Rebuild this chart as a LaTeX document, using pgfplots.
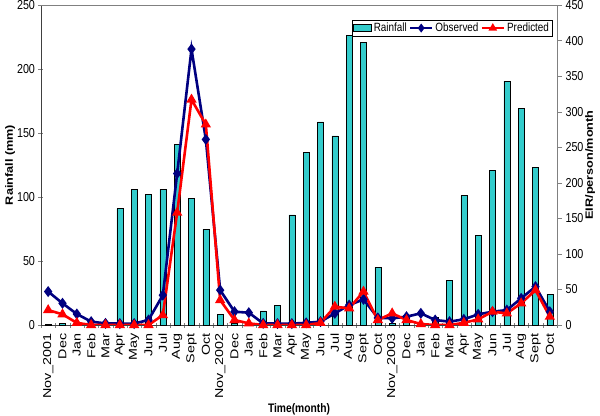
\documentclass[border=0pt]{standalone}
\usepackage{pgfplots}
\pgfplotsset{compat=1.18}
\usepackage{fontspec}
\setmainfont{Liberation Sans}
% the reference is stretched vertically: one family for level text, one for turned text
\newfontfamily\hfont[FakeStretch=0.83]{Liberation Sans}
\newfontfamily\vfont[FakeStretch=1.2]{Liberation Sans}
\newfontfamily\vvfont[FakeStretch=1.25]{Liberation Sans}
\definecolor{rainc}{RGB}{51,204,204}
\definecolor{obsc}{RGB}{0,0,128}
\definecolor{predc}{RGB}{255,0,0}

\begin{document}
\begin{tikzpicture}
\pgfplotsset{
  common/.style={
    scale only axis, width=516bp, height=320bp,
    xmin=-0.5, xmax=35.5, ymin=0,
    yticklabel style={font=\hfont\fontsize{13}{14}\selectfont},
    /pgf/number format/assume math mode=true,
    major tick length=5bp,
  },
}
% left axis: rainfall bars
\begin{axis}[common,
  ymax=250, ytick={0,50,...,250}, tick align=center,
  axis y line*=left, axis x line*=bottom,
  axis line style={black!75},
  xtick={0,...,35}, major x tick style={draw=none},
  minor xtick={-0.5,0.5,...,35.5}, minor tick length=5bp,
  xticklabels={Nov\_2001,Dec,Jan,Feb,Mar,Apr,May,Jun,Jul,Aug,Sept,Oct,
    Nov\_2002,Dec,Jan,Feb,Mar,Apr,May,Jun,Jul,Aug,Sept,Oct,
    Nov\_2003,Dec,Jan,Feb,Mar,Apr,May,Jun,Jul,Aug,Sept,Oct},
  xticklabel style={rotate=90, anchor=east, inner sep=1bp,
    font=\vvfont\fontsize{11.5}{12}\selectfont},
  xticklabel shift=5bp,
  xlabel={Time(month)}, ylabel={Rainfall (mm)},
  ylabel style={at={(axis description cs:-0.06,0.5)}, anchor=center,
    font=\vfont\fontsize{10.6}{12}\selectfont\bfseries},
  xlabel style={at={(axis description cs:0.5,-0.262)}, anchor=center,
    font=\hfont\fontsize{12.4}{14}\selectfont\bfseries},
]
\coordinate (o) at (rel axis cs:0,0);
\addplot[ybar, bar width=6bp, fill=rainc, draw=black, line width=0.6bp] coordinates {
  (0,0.5)(1,1)(2,0)(3,0)(4,0)(5,91)(6,106)(7,102)(8,106)(9,141)(10,99)(11,75)
  (12,8.3)(13,1)(14,0)(15,11)(16,15.6)(17,86)(18,135)(19,158.6)(20,147.7)(21,226)(22,221)(23,45)
  (24,1.3)(25,7.8)(26,0)(27,5.7)(28,34.6)(29,101)(30,70)(31,121)(32,190.6)(33,169)(34,123)(35,24)};
\end{axis}
% right axis: EIR lines
\begin{axis}[common,
  ymax=450, ytick={0,50,...,450}, tick align=outside,
  axis y line*=right, axis x line=none,
  axis line style={gray},
  ylabel={EIR/person/month},
  ylabel style={at={(axis description cs:1.064,0.5)}, anchor=center,
    font=\vfont\fontsize{10.6}{12}\selectfont\bfseries},
  legend style={at={(rel axis cs:1,1)}, xshift=-5bp, yshift=-15bp,
    anchor=north east, legend columns=3,
    font=\hfont\fontsize{12}{13}\selectfont, draw=black, inner sep=0.8bp,
    /tikz/every even column/.append style={column sep=0bp}},
  legend cell align=left,
]
\addlegendimage{legend image code/.code={
  \draw[fill=rainc, draw=black, line width=0.6bp] (0bp,-3.5bp) rectangle (18bp,3.5bp);}}
\addlegendentry{Rainfall}
\addplot[obsc, line width=2.6bp, mark=diamond*, mark size=3.4bp,
  legend image code/.code={
    \draw[line width=2.6bp] (0bp,0bp) -- (22bp,0bp);
    \draw[mark size=2.4bp] plot coordinates {(11bp,0bp)};}] coordinates {
  (0,47)(1,30.5)(2,15.5)(3,4.7)(4,2.3)(5,2)(6,2)(7,7)(8,42)(9,213)(10,388)(11,261)
  (12,49)(13,18.7)(14,17.3)(15,2.3)(16,2)(17,2)(18,3)(19,4.7)(20,16.4)(21,28)(22,36)(23,10)
  (24,9.4)(25,11.7)(26,16.4)(27,7)(28,4.7)(29,8)(30,15)(31,18.7)(32,21)(33,37.5)(34,54)(35,18.7)};
\addlegendentry{Observed}
\addplot[predc, line width=2.6bp, mark=triangle*, mark size=3.4bp,
  legend image code/.code={
    \draw[line width=2.6bp] (0bp,0bp) -- (22bp,0bp);
    \draw[mark size=2.4bp] plot coordinates {(11bp,0bp)};}] coordinates {
  (0,21)(1,15)(2,3)(3,0)(4,0)(5,0)(6,0)(7,0)(8,14)(9,158)(10,317)(11,282)
  (12,35)(13,7)(14,2.3)(15,0)(16,0)(17,0)(18,0)(19,3)(20,25.8)(21,23.4)(22,47)(23,7)
  (24,16.4)(25,7)(26,1.4)(27,0)(28,0)(29,3)(30,8)(31,18.7)(32,16.4)(33,30.5)(34,49)(35,11.7)};
\addlegendentry{Predicted}
\draw[gray, line width=0.7bp] (rel axis cs:0,1) -- (rel axis cs:1,1);
\end{axis}
\pgfresetboundingbox
\path (o) ++(-41bp,-91bp) rectangle ++(600bp,416bp);
\end{tikzpicture}
\end{document}
